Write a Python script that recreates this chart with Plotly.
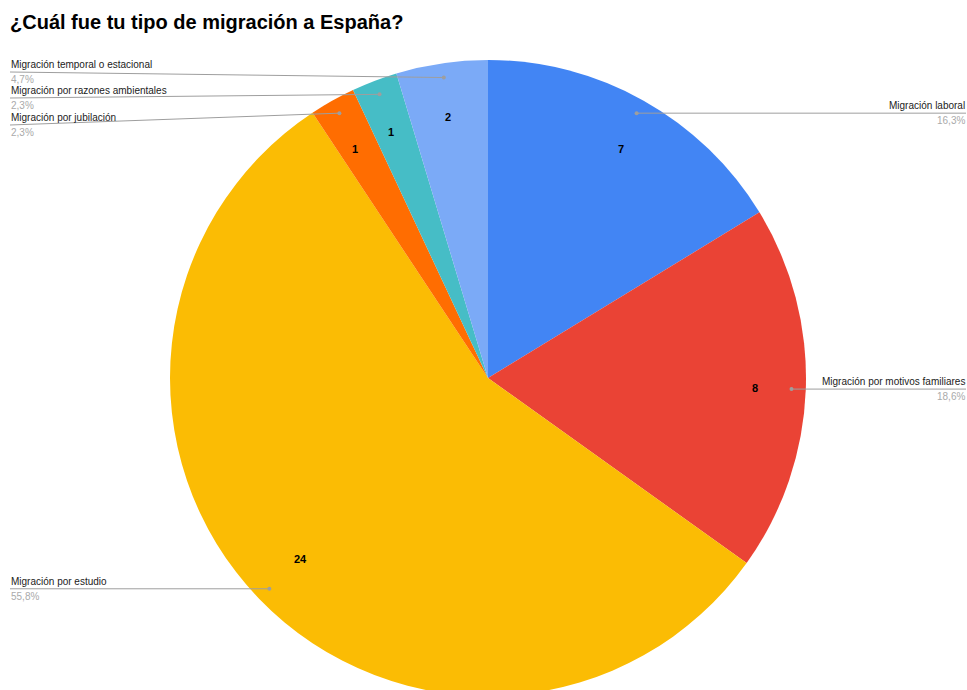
import math
import plotly.graph_objects as go

# ---- data ----
labels = ["Migración laboral", "Migración por motivos familiares", "Migración por estudio",
          "Migración por jubilación", "Migración por razones ambientales",
          "Migración temporal o estacional"]
values = [7, 8, 24, 1, 1, 2]
colors = ["#4285F4", "#EA4335", "#FBBC04", "#FF6D01", "#46BDC6", "#7BAAF7"]
title = "¿Cuál fue tu tipo de migración a España?"

# ---- layout geometry (pixels) ----
W, H = 967, 700          # page is clipped to 690 in the window, pie runs off the bottom
CX, CY, R = 488, 378, 318
TOP = CY - R

# label placement per slice: side, y of leader line at label end (None -> same as dot)
label_side = ["right", "right", "left", "left", "left", "left"]
label_line_y = [None, None, None, 125, 98, 72]

total = sum(values)
pct_text = [f"{v / total * 100:.1f}".replace(".", ",") + "%" for v in values]

# mid angles (clockwise from 12 o'clock)
mids = []
acc = 0
for v in values:
    mids.append((acc + v / 2) / total * 360)
    acc += v


def pix(angle, frac):
    a = math.radians(angle)
    return CX + frac * R * math.sin(a), CY - frac * R * math.cos(a)


def px2paper(x, y):
    return x / W, 1 - y / H


fig = go.Figure(go.Pie(
    labels=labels, values=values, sort=False, direction="clockwise", rotation=0,
    marker=dict(colors=colors, line=dict(width=0)),
    textinfo="none", hoverinfo="label+value+percent", showlegend=False,
    domain=dict(x=[(CX - R) / W, (CX + R) / W], y=[1 - (CY + R) / H, 1 - TOP / H]),
))

shapes = []
annotations = []
FONT = "Liberation Sans, Arial"
for i, lab in enumerate(labels):
    # value label inside slice
    tx, ty = pix(mids[i], 0.855)
    px_, py_ = px2paper(tx, ty)
    annotations.append(dict(x=px_, y=py_, xref="paper", yref="paper", text=f"<b>{values[i]}</b>",
                            showarrow=False, font=dict(size=11, color="#000000", family=FONT)))
    # leader dot
    dx, dy = pix(mids[i], 0.955)
    ly = label_line_y[i] if label_line_y[i] is not None else dy
    if label_side[i] == "right":
        ex, anchor = W - 1, "right"
    else:
        ex, anchor = 10, "left"
    x0, y0 = px2paper(ex, ly)
    x1, y1 = px2paper(dx, dy)
    shapes.append(dict(type="line", xref="paper", yref="paper", x0=x0, y0=y0, x1=x1, y1=y1,
                       line=dict(color="#9e9e9e", width=1)))
    shapes.append(dict(type="circle", xref="paper", yref="paper",
                       x0=(dx - 2) / W, x1=(dx + 2) / W, y0=1 - (dy + 2) / H, y1=1 - (dy - 2) / H,
                       fillcolor="#9e9e9e", line=dict(width=0)))
    annotations.append(dict(x=x0, y=1 - (ly - 1) / H, xref="paper", yref="paper", text=lab,
                            xanchor=anchor, yanchor="bottom", showarrow=False, borderpad=0,
                            font=dict(size=10, color="#222222", family=FONT)))
    annotations.append(dict(x=x0, y=1 - (ly + 1) / H, xref="paper", yref="paper", text=pct_text[i],
                            xanchor=anchor, yanchor="top", showarrow=False, borderpad=0,
                            font=dict(size=10, color="#aaaaaa", family=FONT)))

fig.update_layout(
    width=W, height=H,
    margin=dict(l=0, r=0, t=0, b=0),
    paper_bgcolor="white", plot_bgcolor="white",
    title=dict(text=f"<b>{title}</b>", x=10 / W, xanchor="left", y=1 - 22 / H, yanchor="middle",
               font=dict(size=20, color="#000000", family=FONT)),
    shapes=shapes, annotations=annotations,
)

fig.write_html(
    "out.html",
    config={"displayModeBar": False},
    post_script="document.body.style.margin='0';document.body.style.overflow='hidden';",
)
